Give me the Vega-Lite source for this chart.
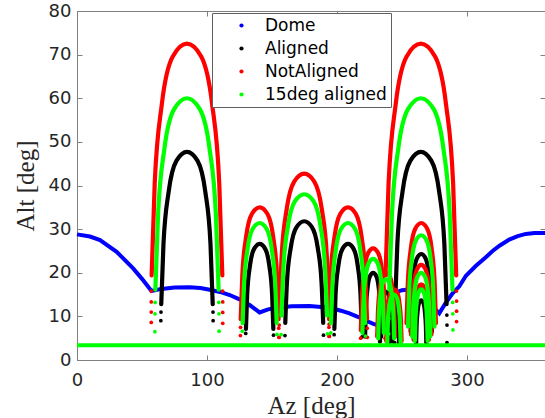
{
"$schema": "https://vega.github.io/schema/vega-lite/v6.json",
"width": 468, "height": 349,
"autosize": {"type": "none"},
"padding": {"left": 77, "top": 11, "right": 0, "bottom": 58},
"background": "white",
"config": {
 "view": {"stroke": "#808080", "strokeWidth": 1},
 "axis": {"labelFont": "DejaVu Sans", "labelFontSize": 18, "labelColor": "#262626", "labelFlush": false, "titleFont": "Liberation Serif", "titleFontSize": 25, "titleFontWeight": "normal", "titleColor": "#262626", "domainColor": "#808080", "tickColor": "#808080", "grid": false, "tickSize": -5, "tickWidth": 1}
},
"datasets": {
 "dome": [
  {"x":0,"y":28.8},{"x":10,"y":28.3},{"x":17.7,"y":27.5},{"x":30.5,"y":24.8},{"x":43.2,"y":21.0},{"x":50,"y":18.6},{"x":57.3,"y":15.8},{"x":65,"y":16.3},{"x":75,"y":16.6},{"x":86.8,"y":16.7},{"x":95,"y":16.5},{"x":102.1,"y":16.1},{"x":110,"y":15.6},{"x":117.5,"y":14.9},{"x":125,"y":13.9},{"x":132.8,"y":12.6},{"x":140.5,"y":10.9},{"x":147,"y":11.6},{"x":153.3,"y":11.9},{"x":165,"y":12.3},{"x":178.9,"y":12.4},{"x":190,"y":12.1},{"x":196.8,"y":11.8},{"x":203,"y":11.3},{"x":209.6,"y":10.7},{"x":216,"y":9.9},{"x":222.4,"y":9.0},{"x":228,"y":8.3},{"x":232.7,"y":7.8},{"x":237,"y":7.3},{"x":241,"y":6.9},{"x":243,"y":10},{"x":245,"y":15.5},{"x":250,"y":16.0},{"x":257,"y":16.2},{"x":263.4,"y":16.4},{"x":268,"y":15.5},{"x":272,"y":13.5},{"x":275,"y":11.8},{"x":278.7,"y":10.7},{"x":283,"y":12.8},{"x":288.9,"y":15.3},{"x":294.1,"y":16.9},{"x":299.2,"y":19.3},{"x":306.9,"y":21.6},{"x":314.7,"y":23.6},{"x":319.7,"y":25.0},{"x":325,"y":26.2},{"x":332.5,"y":27.6},{"x":339,"y":28.4},{"x":345.3,"y":28.9},{"x":352,"y":29.1},{"x":360,"y":29.1}
 ],
 "flat": [{"x":0,"y":3.4},{"x":360,"y":3.4}],
 "notaligned": [
  {"a":"A","x":57.41,"y":19.4},{"a":"A","x":59.76,"y":40.4},{"a":"A","x":65.28,"y":58.7},{"a":"A","x":73.56,"y":69.5},{"a":"A","x":84.6,"y":72.5},{"a":"A","x":95.64,"y":69.5},{"a":"A","x":103.92,"y":58.7},{"a":"A","x":109.44,"y":40.4},{"a":"A","x":111.79,"y":19.4},
  {"a":"B","x":125.92,"y":9.38},{"a":"B","x":127.18,"y":19.5},{"a":"B","x":130.14,"y":28.35},{"a":"B","x":134.58,"y":33.53},{"a":"B","x":140.5,"y":35},{"a":"B","x":146.42,"y":33.53},{"a":"B","x":150.86,"y":28.35},{"a":"B","x":153.82,"y":19.5},{"a":"B","x":155.08,"y":9.38},
  {"a":"C","x":155.79,"y":11.44},{"a":"C","x":157.43,"y":23.78},{"a":"C","x":161.29,"y":34.59},{"a":"C","x":167.08,"y":40.91},{"a":"C","x":174.8,"y":42.7},{"a":"C","x":182.52,"y":40.91},{"a":"C","x":188.31,"y":34.59},{"a":"C","x":192.17,"y":23.78},{"a":"C","x":193.81,"y":11.44},
  {"a":"D","x":193.92,"y":9.38},{"a":"D","x":195.18,"y":19.5},{"a":"D","x":198.14,"y":28.35},{"a":"D","x":202.58,"y":33.53},{"a":"D","x":208.5,"y":35},{"a":"D","x":214.42,"y":33.53},{"a":"D","x":218.86,"y":28.35},{"a":"D","x":221.82,"y":19.5},{"a":"D","x":223.08,"y":9.38},
  {"a":"E","x":218.34,"y":6.86},{"a":"E","x":219.16,"y":14.26},{"a":"E","x":221.08,"y":20.74},{"a":"E","x":223.96,"y":24.52},{"a":"E","x":227.8,"y":25.6},{"a":"E","x":231.64,"y":24.52},{"a":"E","x":234.52,"y":20.74},{"a":"E","x":236.44,"y":14.26},{"a":"E","x":237.26,"y":6.86},
  {"a":"F","x":230.9,"y":5.36},{"a":"F","x":231.5,"y":11.14},{"a":"F","x":232.9,"y":16.2},{"a":"F","x":235.0,"y":19.16},{"a":"F","x":237.8,"y":20},{"a":"F","x":240.6,"y":19.16},{"a":"F","x":242.7,"y":16.2},{"a":"F","x":244.1,"y":11.14},{"a":"F","x":244.7,"y":5.36},
  {"a":"G","x":237.89,"y":4.34},{"a":"G","x":238.4,"y":9.02},{"a":"G","x":239.6,"y":13.12},{"a":"G","x":241.4,"y":15.52},{"a":"G","x":243.8,"y":16.2},{"a":"G","x":246.2,"y":15.52},{"a":"G","x":248.0,"y":13.12},{"a":"G","x":249.2,"y":9.02},{"a":"G","x":249.71,"y":4.34},
  {"a":"H","x":237.31,"y":19.4},{"a":"H","x":239.66,"y":40.4},{"a":"H","x":245.18,"y":58.7},{"a":"H","x":253.46,"y":69.5},{"a":"H","x":264.5,"y":72.5},{"a":"H","x":275.54,"y":69.5},{"a":"H","x":283.82,"y":58.7},{"a":"H","x":289.34,"y":40.4},{"a":"H","x":291.69,"y":19.4},
  {"a":"I1","x":253.47,"y":8.42},{"a":"I1","x":254.45,"y":17.49},{"a":"I1","x":256.75,"y":25.43},{"a":"I1","x":260.2,"y":30.08},{"a":"I1","x":264.8,"y":31.4},{"a":"I1","x":269.4,"y":30.08},{"a":"I1","x":272.85,"y":25.43},{"a":"I1","x":275.15,"y":17.49},{"a":"I1","x":276.13,"y":8.42},
  {"a":"I2","x":256.92,"y":5.84},{"a":"I2","x":257.6,"y":12.14},{"a":"I2","x":259.2,"y":17.66},{"a":"I2","x":261.6,"y":20.88},{"a":"I2","x":264.8,"y":21.8},{"a":"I2","x":268.0,"y":20.88},{"a":"I2","x":270.4,"y":17.66},{"a":"I2","x":272.0,"y":12.14},{"a":"I2","x":272.68,"y":5.84},
  {"a":"I3","x":258.89,"y":4.64},{"a":"I3","x":259.4,"y":9.64},{"a":"I3","x":260.6,"y":14.01},{"a":"I3","x":262.4,"y":16.57},{"a":"I3","x":264.8,"y":17.3},{"a":"I3","x":267.2,"y":16.57},{"a":"I3","x":269.0,"y":14.01},{"a":"I3","x":270.2,"y":9.64},{"a":"I3","x":270.71,"y":4.64}
 ],
 "deg15": [
  {"a":"A","x":60.27,"y":16.1},{"a":"A","x":62.37,"y":33.4},{"a":"A","x":67.31,"y":48.6},{"a":"A","x":74.72,"y":57.5},{"a":"A","x":84.6,"y":60},{"a":"A","x":94.48,"y":57.5},{"a":"A","x":101.89,"y":48.6},{"a":"A","x":106.83,"y":33.4},{"a":"A","x":108.93,"y":16.1},
  {"a":"B","x":127.4,"y":8.42},{"a":"B","x":128.53,"y":17.49},{"a":"B","x":131.19,"y":25.43},{"a":"B","x":135.18,"y":30.08},{"a":"B","x":140.5,"y":31.4},{"a":"B","x":145.82,"y":30.08},{"a":"B","x":149.81,"y":25.43},{"a":"B","x":152.47,"y":17.49},{"a":"B","x":153.6,"y":8.42},
  {"a":"C","x":157.27,"y":10.18},{"a":"C","x":158.78,"y":21.17},{"a":"C","x":162.34,"y":30.78},{"a":"C","x":167.68,"y":36.4},{"a":"C","x":174.8,"y":38},{"a":"C","x":181.92,"y":36.4},{"a":"C","x":187.26,"y":30.78},{"a":"C","x":190.82,"y":21.17},{"a":"C","x":192.33,"y":10.18},
  {"a":"D","x":195.4,"y":8.42},{"a":"D","x":196.53,"y":17.49},{"a":"D","x":199.19,"y":25.43},{"a":"D","x":203.18,"y":30.08},{"a":"D","x":208.5,"y":31.4},{"a":"D","x":213.82,"y":30.08},{"a":"D","x":217.81,"y":25.43},{"a":"D","x":220.47,"y":17.49},{"a":"D","x":221.6,"y":8.42},
  {"a":"E","x":219.53,"y":6.22},{"a":"E","x":220.24,"y":12.92},{"a":"E","x":221.92,"y":18.79},{"a":"E","x":224.44,"y":22.23},{"a":"E","x":227.8,"y":23.2},{"a":"E","x":231.16,"y":22.23},{"a":"E","x":233.68,"y":18.79},{"a":"E","x":235.36,"y":12.92},{"a":"E","x":236.07,"y":6.22},
  {"a":"F","x":231.69,"y":4.96},{"a":"F","x":232.22,"y":10.3},{"a":"F","x":233.46,"y":14.98},{"a":"F","x":235.32,"y":17.72},{"a":"F","x":237.8,"y":18.5},{"a":"F","x":240.28,"y":17.72},{"a":"F","x":242.14,"y":14.98},{"a":"F","x":243.38,"y":10.3},{"a":"F","x":243.91,"y":4.96},
  {"a":"G","x":238.68,"y":4.02},{"a":"G","x":239.12,"y":8.36},{"a":"G","x":240.16,"y":12.15},{"a":"G","x":241.72,"y":14.37},{"a":"G","x":243.8,"y":15},{"a":"G","x":245.88,"y":14.37},{"a":"G","x":247.44,"y":12.15},{"a":"G","x":248.48,"y":8.36},{"a":"G","x":248.92,"y":4.02},
  {"a":"H","x":240.17,"y":16.1},{"a":"H","x":242.27,"y":33.4},{"a":"H","x":247.21,"y":48.6},{"a":"H","x":254.62,"y":57.5},{"a":"H","x":264.5,"y":60},{"a":"H","x":274.38,"y":57.5},{"a":"H","x":281.79,"y":48.6},{"a":"H","x":286.73,"y":33.4},{"a":"H","x":288.83,"y":16.1},
  {"a":"I1","x":254.65,"y":7.66},{"a":"I1","x":255.53,"y":15.93},{"a":"I1","x":257.59,"y":23.17},{"a":"I1","x":260.68,"y":27.4},{"a":"I1","x":264.8,"y":28.6},{"a":"I1","x":268.92,"y":27.4},{"a":"I1","x":272.01,"y":23.17},{"a":"I1","x":274.07,"y":15.93},{"a":"I1","x":274.95,"y":7.66},
  {"a":"I2","x":257.9,"y":5.36},{"a":"I2","x":258.5,"y":11.14},{"a":"I2","x":259.9,"y":16.2},{"a":"I2","x":262.0,"y":19.16},{"a":"I2","x":264.8,"y":20},{"a":"I2","x":267.6,"y":19.16},{"a":"I2","x":269.7,"y":16.2},{"a":"I2","x":271.1,"y":11.14},{"a":"I2","x":271.7,"y":5.36},
  {"a":"I3","x":259.87,"y":4.34},{"a":"I3","x":260.3,"y":9.02},{"a":"I3","x":261.3,"y":13.12},{"a":"I3","x":262.8,"y":15.52},{"a":"I3","x":264.8,"y":16.2},{"a":"I3","x":266.8,"y":15.52},{"a":"I3","x":268.3,"y":13.12},{"a":"I3","x":269.3,"y":9.02},{"a":"I3","x":269.73,"y":4.34}
 ],
 "aligned": [
  {"a":"A","x":64.8,"y":12.78},{"a":"A","x":66.51,"y":26.57},{"a":"A","x":70.53,"y":38.63},{"a":"A","x":76.56,"y":45.7},{"a":"A","x":84.6,"y":47.7},{"a":"A","x":92.64,"y":45.7},{"a":"A","x":98.67,"y":38.63},{"a":"A","x":102.69,"y":26.57},{"a":"A","x":104.4,"y":12.78},
  {"a":"B","x":129.96,"y":7.13},{"a":"B","x":130.87,"y":14.82},{"a":"B","x":133.01,"y":21.54},{"a":"B","x":136.22,"y":25.48},{"a":"B","x":140.5,"y":26.6},{"a":"B","x":144.78,"y":25.48},{"a":"B","x":147.99,"y":21.54},{"a":"B","x":150.13,"y":14.82},{"a":"B","x":151.04,"y":7.13},
  {"a":"C","x":160.22,"y":8.52},{"a":"C","x":161.48,"y":17.71},{"a":"C","x":164.44,"y":25.76},{"a":"C","x":168.88,"y":30.46},{"a":"C","x":174.8,"y":31.8},{"a":"C","x":180.72,"y":30.46},{"a":"C","x":185.16,"y":25.76},{"a":"C","x":188.12,"y":17.71},{"a":"C","x":189.38,"y":8.52},
  {"a":"D","x":197.96,"y":7.13},{"a":"D","x":198.87,"y":14.82},{"a":"D","x":201.01,"y":21.54},{"a":"D","x":204.22,"y":25.48},{"a":"D","x":208.5,"y":26.6},{"a":"D","x":212.78,"y":25.48},{"a":"D","x":215.99,"y":21.54},{"a":"D","x":218.13,"y":14.82},{"a":"D","x":219.04,"y":7.13},
  {"a":"E","x":221.59,"y":5.36},{"a":"E","x":222.13,"y":11.14},{"a":"E","x":223.39,"y":16.2},{"a":"E","x":225.28,"y":19.16},{"a":"E","x":227.8,"y":20},{"a":"E","x":230.32,"y":19.16},{"a":"E","x":232.21,"y":16.2},{"a":"E","x":233.47,"y":11.14},{"a":"E","x":234.01,"y":5.36},
  {"a":"F","x":233.07,"y":4.18},{"a":"F","x":233.48,"y":8.69},{"a":"F","x":234.44,"y":12.64},{"a":"F","x":235.88,"y":14.94},{"a":"F","x":237.8,"y":15.6},{"a":"F","x":239.72,"y":14.94},{"a":"F","x":241.16,"y":12.64},{"a":"F","x":242.12,"y":8.69},{"a":"F","x":242.53,"y":4.18},
  {"a":"G","x":239.86,"y":3.59},{"a":"G","x":240.2,"y":7.46},{"a":"G","x":241.0,"y":10.85},{"a":"G","x":242.2,"y":12.84},{"a":"G","x":243.8,"y":13.4},{"a":"G","x":245.4,"y":12.84},{"a":"G","x":246.6,"y":10.85},{"a":"G","x":247.4,"y":7.46},{"a":"G","x":247.74,"y":3.59},
  {"a":"H","x":244.7,"y":12.78},{"a":"H","x":246.41,"y":26.57},{"a":"H","x":250.43,"y":38.63},{"a":"H","x":256.46,"y":45.7},{"a":"H","x":264.5,"y":47.7},{"a":"H","x":272.54,"y":45.7},{"a":"H","x":278.57,"y":38.63},{"a":"H","x":282.59,"y":26.57},{"a":"H","x":284.3,"y":12.78},
  {"a":"I1","x":256.62,"y":6.51},{"a":"I1","x":257.33,"y":13.54},{"a":"I1","x":258.99,"y":19.68},{"a":"I1","x":261.48,"y":23.28},{"a":"I1","x":264.8,"y":24.3},{"a":"I1","x":268.12,"y":23.28},{"a":"I1","x":270.61,"y":19.68},{"a":"I1","x":272.27,"y":13.54},{"a":"I1","x":272.98,"y":6.51},
  {"a":"I2","x":259.28,"y":4.61},{"a":"I2","x":259.76,"y":9.58},{"a":"I2","x":260.88,"y":13.93},{"a":"I2","x":262.56,"y":16.48},{"a":"I2","x":264.8,"y":17.2},{"a":"I2","x":267.04,"y":16.48},{"a":"I2","x":268.72,"y":13.93},{"a":"I2","x":269.84,"y":9.58},{"a":"I2","x":270.32,"y":4.61},
  {"a":"I3","x":260.86,"y":3.67},{"a":"I3","x":261.2,"y":7.63},{"a":"I3","x":262.0,"y":11.1},{"a":"I3","x":263.2,"y":13.12},{"a":"I3","x":264.8,"y":13.7},{"a":"I3","x":266.4,"y":13.12},{"a":"I3","x":267.6,"y":11.1},{"a":"I3","x":268.4,"y":7.63},{"a":"I3","x":268.74,"y":3.67}
 ],
 "dots": [
  {"s":"NotAligned","x":57.1,"y":8.6},{"s":"NotAligned","x":57.1,"y":11.0},{"s":"NotAligned","x":57.1,"y":13.3},{"s":"NotAligned","x":57.2,"y":15.8},
  {"s":"NotAligned","x":112.1,"y":8.4},{"s":"NotAligned","x":112.1,"y":10.9},{"s":"NotAligned","x":112.1,"y":13.3},{"s":"NotAligned","x":112.0,"y":15.8},
  {"s":"NotAligned","x":125.7,"y":5.6},{"s":"NotAligned","x":125.8,"y":7.5},{"s":"NotAligned","x":155.3,"y":5.2},{"s":"NotAligned","x":155.2,"y":7.3},
  {"s":"NotAligned","x":155.5,"y":5.2},{"s":"NotAligned","x":155.6,"y":8.0},{"s":"NotAligned","x":194.1,"y":5.4},{"s":"NotAligned","x":194.0,"y":8.2},
  {"s":"NotAligned","x":193.7,"y":5.5},{"s":"NotAligned","x":193.8,"y":7.5},{"s":"NotAligned","x":223.3,"y":5.2},{"s":"NotAligned","x":223.2,"y":7.3},
  {"s":"NotAligned","x":218.2,"y":5.0},{"s":"NotAligned","x":237.4,"y":4.8},
  {"s":"NotAligned","x":237.0,"y":5.0},{"s":"NotAligned","x":237.0,"y":7.5},{"s":"NotAligned","x":237.1,"y":10.5},{"s":"NotAligned","x":237.2,"y":13.5},
  {"s":"NotAligned","x":292.0,"y":8.8},{"s":"NotAligned","x":292.0,"y":11.2},{"s":"NotAligned","x":292.0,"y":13.5},{"s":"NotAligned","x":291.9,"y":15.8},
  {"s":"15deg aligned","x":59.9,"y":6.5},{"s":"15deg aligned","x":60.0,"y":10.6},{"s":"15deg aligned","x":60.1,"y":13.2},
  {"s":"15deg aligned","x":109.3,"y":6.6},{"s":"15deg aligned","x":109.2,"y":10.6},{"s":"15deg aligned","x":109.1,"y":13.2},
  {"s":"15deg aligned","x":127.2,"y":6.6},{"s":"15deg aligned","x":153.8,"y":5.9},{"s":"15deg aligned","x":157.0,"y":5.8},{"s":"15deg aligned","x":192.6,"y":6.0},
  {"s":"15deg aligned","x":195.2,"y":6.2},{"s":"15deg aligned","x":221.8,"y":5.5},
  {"s":"15deg aligned","x":239.8,"y":6.0},{"s":"15deg aligned","x":239.9,"y":9.5},{"s":"15deg aligned","x":240.0,"y":12.5},
  {"s":"15deg aligned","x":289.2,"y":6.9},{"s":"15deg aligned","x":289.1,"y":10.6},{"s":"15deg aligned","x":289.0,"y":13.2},
  {"s":"Aligned","x":64.5,"y":9.0},{"s":"Aligned","x":64.6,"y":11.0},{"s":"Aligned","x":104.7,"y":9.0},{"s":"Aligned","x":104.6,"y":11.0},
  {"s":"Aligned","x":129.8,"y":6.1},{"s":"Aligned","x":151.2,"y":5.7},{"s":"Aligned","x":160.0,"y":5.6},{"s":"Aligned","x":189.6,"y":5.7},
  {"s":"Aligned","x":197.8,"y":5.8},{"s":"Aligned","x":219.2,"y":5.3},
  {"s":"Aligned","x":244.4,"y":4.0},{"s":"Aligned","x":244.5,"y":7.0},{"s":"Aligned","x":244.6,"y":10.0},
  {"s":"Aligned","x":284.6,"y":4.0},{"s":"Aligned","x":284.6,"y":8.0},{"s":"Aligned","x":284.5,"y":10.3}
 ]
},
"layer": [
 {"data": {"name": "dome"}, "mark": {"type": "line", "color": "#0000ff", "strokeWidth": 4},
  "encoding": {
   "x": {"field": "x", "type": "quantitative", "scale": {"domain": [0, 360], "nice": false, "zero": false},
         "axis": {"orient": "bottom", "values": [0, 100, 200, 300], "title": "Az [deg]", "labelPadding": 16, "titlePadding": 4}},
   "y": {"field": "y", "type": "quantitative", "scale": {"domain": [0, 80], "nice": false},
         "axis": {"orient": "left", "values": [0, 10, 20, 30, 40, 50, 60, 70, 80], "title": "Alt [deg]", "labelPadding": 11, "titlePadding": 10}}
  }},
 {"data": {"name": "aligned"}, "mark": {"type": "line", "color": "#000000", "strokeWidth": 4.2, "strokeCap": "round", "interpolate": "monotone"},
  "encoding": {
   "x": {"field": "x", "type": "quantitative", "axis": {"orient": "top", "values": [0, 100, 200, 300], "labels": false, "title": null}},
   "y": {"field": "y", "type": "quantitative", "axis": {"orient": "right", "values": [0, 10, 20, 30, 40, 50, 60, 70, 80], "labels": false, "title": null}},
   "detail": {"field": "a"}
  }},
 {"data": {"name": "dots"}, "transform": [{"filter": "datum.s == 'Aligned'"}],
  "mark": {"type": "point", "filled": true, "opacity": 1, "size": 14},
  "encoding": {
   "x": {"field": "x", "type": "quantitative", "axis": null},
   "y": {"field": "y", "type": "quantitative", "axis": null},
   "color": {"field": "s", "type": "nominal", "sort": null,
     "scale": {"domain": ["Dome", "Aligned", "NotAligned", "15deg aligned"], "range": ["#0000ff", "#000000", "#ff0000", "#00ff00"]},
     "legend": {"orient": "none", "legendX": 135, "legendY": 2, "title": null, "symbolType": "circle", "symbolSize": 18, "symbolStrokeWidth": 0,
       "labelFont": "DejaVu Sans", "labelFontSize": 17, "labelColor": "#000000", "strokeColor": "#606060", "fillColor": "white",
       "padding": 4, "rowPadding": 5, "symbolOffset": 17, "labelOffset": 15}}
  }},
 {"data": {"name": "notaligned"}, "mark": {"type": "line", "color": "#ff0000", "strokeWidth": 4.2, "strokeCap": "round", "interpolate": "monotone"},
  "encoding": {
   "x": {"field": "x", "type": "quantitative", "axis": null},
   "y": {"field": "y", "type": "quantitative", "axis": null},
   "detail": {"field": "a"}
  }},
 {"data": {"name": "dots"}, "transform": [{"filter": "datum.s == 'NotAligned'"}],
  "mark": {"type": "point", "filled": true, "opacity": 1, "size": 14},
  "encoding": {
   "x": {"field": "x", "type": "quantitative", "axis": null},
   "y": {"field": "y", "type": "quantitative", "axis": null},
   "color": {"field": "s", "type": "nominal", "legend": null}
  }},
 {"data": {"name": "deg15"}, "mark": {"type": "line", "color": "#00ff00", "strokeWidth": 4.2, "strokeCap": "round", "interpolate": "monotone"},
  "encoding": {
   "x": {"field": "x", "type": "quantitative", "axis": null},
   "y": {"field": "y", "type": "quantitative", "axis": null},
   "detail": {"field": "a"}
  }},
 {"data": {"name": "dots"}, "transform": [{"filter": "datum.s == '15deg aligned'"}],
  "mark": {"type": "point", "filled": true, "opacity": 1, "size": 14},
  "encoding": {
   "x": {"field": "x", "type": "quantitative", "axis": null},
   "y": {"field": "y", "type": "quantitative", "axis": null},
   "color": {"field": "s", "type": "nominal", "legend": null}
  }},
 {"data": {"name": "flat"}, "mark": {"type": "line", "color": "#00ff00", "strokeWidth": 4},
  "encoding": {
   "x": {"field": "x", "type": "quantitative", "axis": null},
   "y": {"field": "y", "type": "quantitative", "axis": null}
  }}
],
"resolve": {"axis": {"x": "independent", "y": "independent"}}
}
